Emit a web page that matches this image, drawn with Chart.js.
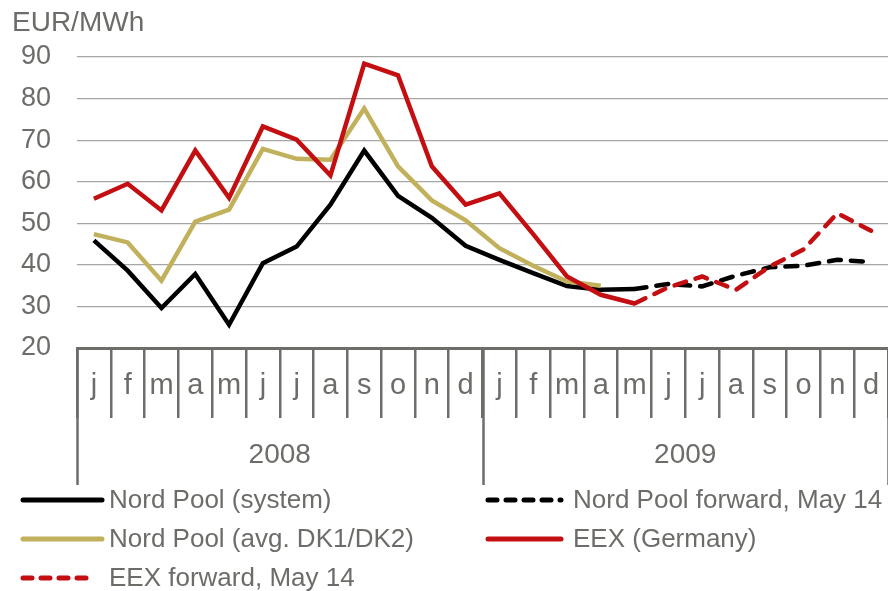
<!DOCTYPE html>
<html>
<head>
<meta charset="utf-8">
<script src="https://cdn.jsdelivr.net/npm/chart.js@4.4.1/dist/chart.umd.min.js"></script>
<style>
  body { margin: 0; background: #fff; }
  #wrap { width: 888px; height: 591px; }
</style>
</head>
<body>
<div id="wrap"><canvas id="priceChart"></canvas></div>
<script>
// months for 2008 and 2009
const months = ['j','f','m','a','m','j','j','a','s','o','n','d',
                'j','f','m','a','m','j','j','a','s','o','n','d'];
const years = ['2008', '2009'];
const yMin = 20, yMax = 90, yStep = 10;

// EUR/MWh
const nordPoolSystem = [45.9, 38.6, 29.6, 37.8, 25.6, 40.4, 44.4, 54.5, 67.5, 56.6, 51.3, 44.6,
                        41.2, 38.0, 34.9, 34.0, 34.2, null, null, null, null, null, null, null];
const nordPoolDK = [47.4, 45.4, 36.2, 50.4, 53.3, 67.9, 65.5, 65.3, 77.6, 63.7, 55.5, 50.7,
                    44.0, 39.8, 36.0, 35.0, null, null, null, null, null, null, null, null];
const eexGermany = [55.9, 59.5, 53.1, 67.5, 56.1, 73.3, 70.1, 61.5, 88.4, 85.6, 63.7, 54.5,
                    57.2, 47.4, 37.2, 32.8, 30.7, null, null, null, null, null, null, null];
const nordPoolForward = [null, null, null, null, null, null, null, null, null, null, null, null,
                         null, null, null, null, 34.2, 35.4, 34.8, 37.4, 39.4, 39.8, 41.2, 40.7];
const eexForward = [null, null, null, null, null, null, null, null, null, null, null, null,
                    null, null, null, null, 30.7, 34.6, 37.2, 34.0, 39.6, 43.7, 52.4, 48.2];

const FONT = '"Liberation Sans", Arial, sans-serif';
const TEXT = '#6b6e68';
const AXIS = '#6d6e6a';
const dash = [12, 10];

// x axis groups, unit label and the two-column legend
const decorations = {
    id: 'decorations',
    afterDraw(chart) {
        const ctx = chart.ctx;
        const x = chart.scales.x;
        const area = chart.chartArea;
        const cell = x.getPixelForValue(1) - x.getPixelForValue(0);
        ctx.save();

        ctx.fillStyle = TEXT;
        ctx.font = '28px ' + FONT;
        ctx.textAlign = 'left';
        ctx.textBaseline = 'alphabetic';
        ctx.fillText('EUR/MWh', 12, 31);

        // month letters
        ctx.font = '29px ' + FONT;
        ctx.textAlign = 'center';
        months.forEach((m, i) => ctx.fillText(m, x.getPixelForValue(i), 394));

        // year separators and labels
        ctx.strokeStyle = AXIS;
        ctx.lineWidth = 2.5;
        for (let g = 0; g <= years.length; g++) {
            const px = Math.round(x.getPixelForValue(g * 12) - cell / 2) + 0.5;
            ctx.beginPath();
            ctx.moveTo(px, area.bottom);
            ctx.lineTo(px, 485);
            ctx.stroke();
        }
        ctx.font = '28px ' + FONT;
        years.forEach((y, g) => {
            const mid = (x.getPixelForValue(g * 12) + x.getPixelForValue(g * 12 + 11)) / 2;
            ctx.fillText(y, mid, 463);
        });

        // legend
        const spots = [
            { x0: 23, x1: 102, tx: 109, y: 500 },
            { x0: 488, x1: 561, tx: 573, y: 500 },
            { x0: 23, x1: 102, tx: 109, y: 539 },
            { x0: 488, x1: 561, tx: 573, y: 539 },
            { x0: 23, x1: 95, tx: 109, y: 578 }
        ];
        ctx.font = '26px ' + FONT;
        ctx.textAlign = 'left';
        ctx.textBaseline = 'middle';
        chart.data.datasets.forEach((ds, i) => {
            const s = spots[i];
            ctx.strokeStyle = ds.borderColor;
            ctx.lineWidth = 5;
            ctx.lineCap = 'round';
            ctx.setLineDash(ds.borderDash ? [9, 9] : []);
            ctx.beginPath();
            ctx.moveTo(s.x0, s.y);
            ctx.lineTo(s.x1, s.y);
            ctx.stroke();
            ctx.setLineDash([]);
            ctx.fillStyle = TEXT;
            ctx.fillText(ds.label, s.tx, s.y + 1);
        });
        ctx.restore();
    }
};

const ctx = document.getElementById('priceChart').getContext('2d');
const priceChart = new Chart(ctx, {
    type: 'line',
    data: {
        labels: months,
        datasets: [
            { label: 'Nord Pool (system)', data: nordPoolSystem, borderColor: '#000000', order: 4 },
            { label: 'Nord Pool forward, May 14', data: nordPoolForward, borderColor: '#000000',
              borderDash: dash, borderCapStyle: 'round', order: 5 },
            { label: 'Nord Pool (avg. DK1/DK2)', data: nordPoolDK, borderColor: '#c2b15c', order: 3 },
            { label: 'EEX (Germany)', data: eexGermany, borderColor: '#c40f12', order: 1 },
            { label: 'EEX forward, May 14', data: eexForward, borderColor: '#c40f12',
              borderDash: dash, borderCapStyle: 'round', order: 2 }
        ]
    },
    options: {
        responsive: true,
        maintainAspectRatio: false,
        animation: false,
        layout: { padding: { top: 57, right: 0, bottom: 0, left: 0 } },
        elements: {
            line: { borderWidth: 4.5, tension: 0, fill: false },
            point: { radius: 0 }
        },
        plugins: {
            legend: { display: false },
            tooltip: { enabled: false }
        },
        scales: {
            x: {
                offset: true,
                ticks: { display: false },
                grid: {
                    offset: true,
                    drawOnChartArea: false,
                    tickLength: 70,
                    color: AXIS,
                    lineWidth: 2.5
                },
                border: { display: true, color: AXIS, width: 3 },
                afterFit: (scale) => { scale.height = 243; }
            },
            y: {
                min: yMin,
                max: yMax,
                ticks: {
                    stepSize: yStep,
                    padding: 26,
                    color: TEXT,
                    font: { family: FONT, size: 27 }
                },
                grid: { color: '#a6a6a6', lineWidth: 1.2, drawTicks: false },
                border: { display: false },
                afterFit: (scale) => { scale.width = 77; }
            }
        }
    },
    plugins: [decorations]
});
</script>
</body>
</html>
